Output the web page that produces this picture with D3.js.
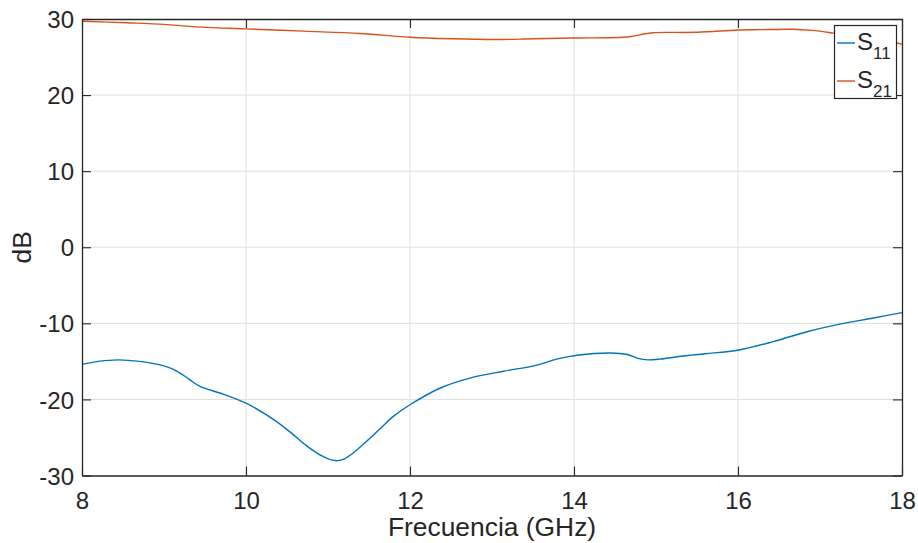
<!DOCTYPE html>
<html>
<head>
<meta charset="utf-8">
<script src="https://cdn.jsdelivr.net/npm/d3@7"></script>
<style>
  body { margin: 0; background: #fff; }
  svg text { font-family: "Liberation Sans", Arial, Helvetica, sans-serif; fill: #262626; }
</style>
</head>
<body>
<div id="chart"></div>
<script>
var width = 918,
    height = 543;

var margin = {top: 19, right: 16, bottom: 67.5, left: 82};

// S11 (blue)
var freq11 = [8.0, 8.2, 8.44, 8.7, 9.0, 9.16, 9.3, 9.44, 9.72, 10.0, 10.33, 10.55, 10.74, 10.92, 11.04, 11.12, 11.2, 11.3, 11.45, 11.63, 11.8, 12.0, 12.37, 12.73, 13.14, 13.55, 13.79, 14.04, 14.44, 14.65, 14.78, 14.9, 15.05, 15.33, 15.6, 16.01, 16.43, 16.84, 17.24, 17.65, 18.0];
var s11 = [-15.4, -15.0, -14.8, -15.0, -15.6, -16.3, -17.3, -18.3, -19.3, -20.5, -22.6, -24.4, -26.1, -27.4, -27.95, -28.05, -27.8, -27.1, -25.7, -23.9, -22.2, -20.7, -18.5, -17.2, -16.3, -15.5, -14.7, -14.2, -13.9, -14.1, -14.6, -14.8, -14.7, -14.3, -14.0, -13.5, -12.4, -11.1, -10.1, -9.3, -8.6];

// S21 (orange)
var freq21 = [8.0, 8.55, 9.0, 9.35, 10.0, 10.7, 11.39, 12.0, 12.5, 13.06, 13.5, 14.0, 14.6, 14.72, 14.84, 14.96, 15.5, 16.0, 16.27, 16.67, 16.9, 17.16, 17.5, 17.8, 18.0];
var s21 = [29.7, 29.5, 29.3, 29.0, 28.7, 28.4, 28.1, 27.6, 27.4, 27.3, 27.4, 27.5, 27.6, 27.75, 28.0, 28.2, 28.25, 28.55, 28.6, 28.65, 28.5, 28.15, 27.6, 27.1, 26.7];

var xTicks = [8, 10, 12, 14, 16, 18];
var yTicks = [-30, -20, -10, 0, 10, 20, 30];

var seriesNames = ["11", "21"];
var colors = ["#0072BD", "#D95319"];

var svg = d3.select("#chart").append("svg")
    .attr("width", width)
    .attr("height", height);

var x = d3.scaleLinear().domain([8, 18]).range([margin.left, width - margin.right]);
var y = d3.scaleLinear().domain([-30, 30]).range([height - margin.bottom, margin.top]);

// grid
svg.append("g").selectAll("line.vg")
    .data(xTicks.slice(1, -1))
    .enter().append("line")
    .attr("x1", function(d) { return x(d); })
    .attr("x2", function(d) { return x(d); })
    .attr("y1", y(-30))
    .attr("y2", y(30))
    .attr("stroke", "#dfdfdf")
    .attr("stroke-width", 1);

svg.append("g").selectAll("line.hg")
    .data(yTicks.slice(1, -1))
    .enter().append("line")
    .attr("x1", x(8))
    .attr("x2", x(18))
    .attr("y1", function(d) { return y(d); })
    .attr("y2", function(d) { return y(d); })
    .attr("stroke", "#dfdfdf")
    .attr("stroke-width", 1);

// lines
var line = d3.line()
    .x(function(d) { return x(d[0]); })
    .y(function(d) { return y(d[1]); })
    .curve(d3.curveCatmullRom.alpha(0.5));

var data11 = freq11.map(function(f, i) { return [f, s11[i]]; });
var data21 = freq21.map(function(f, i) { return [f, s21[i]]; });

svg.append("path")
    .datum(data11)
    .attr("d", line)
    .attr("fill", "none")
    .attr("stroke", colors[0])
    .attr("stroke-width", 1.4);

svg.append("path")
    .datum(data21)
    .attr("d", line)
    .attr("fill", "none")
    .attr("stroke", colors[1])
    .attr("stroke-width", 1.4);

// axes (ticks pointing inward, box on)
var tickLen = 9;
var axisColor = "#262626";

var xAxisB = d3.axisBottom(x).tickValues(xTicks).tickSizeInner(-tickLen).tickSizeOuter(0).tickPadding(16);
var xAxisT = d3.axisTop(x).tickValues(xTicks).tickSizeInner(-tickLen).tickSizeOuter(0).tickFormat("");
var yAxisL = d3.axisLeft(y).tickValues(yTicks).tickSizeInner(-tickLen).tickSizeOuter(0).tickPadding(8);
var yAxisR = d3.axisRight(y).tickValues(yTicks).tickSizeInner(-tickLen).tickSizeOuter(0).tickFormat("");

var gxb = svg.append("g").attr("transform", "translate(0," + y(-30) + ")").call(xAxisB);
var gxt = svg.append("g").attr("transform", "translate(0," + y(30) + ")").call(xAxisT);
var gyl = svg.append("g").attr("transform", "translate(" + x(8) + ",0)").call(yAxisL);
var gyr = svg.append("g").attr("transform", "translate(" + x(18) + ",0)").call(yAxisR);

[gxb, gxt, gyl, gyr].forEach(function(g) {
    g.select(".domain").attr("stroke", axisColor).attr("stroke-width", 1.3);
    g.selectAll(".tick line").attr("stroke", axisColor).attr("stroke-width", 1.1);
    g.selectAll(".tick text")
        .attr("font-size", 24)
        .attr("font-family", "Liberation Sans, Arial, sans-serif")
        .attr("fill", axisColor);
});

gyl.selectAll(".tick text").attr("dy", "0.36em").text(function(d) { return d < 0 ? "-" + Math.abs(d) : d; });

// axis labels
svg.append("text")
    .attr("x", x(13))
    .attr("y", 536)
    .attr("text-anchor", "middle")
    .attr("font-size", 26.4)
    .text("Frecuencia (GHz)");

svg.append("text")
    .attr("transform", "translate(31," + y(0) + ") rotate(-90)")
    .attr("text-anchor", "middle")
    .attr("font-size", 26.4)
    .text("dB");

// legend
var legend = svg.append("g");
legend.append("rect")
    .attr("x", 834.5)
    .attr("y", 25.5)
    .attr("width", 62)
    .attr("height", 73)
    .attr("fill", "#fff")
    .attr("stroke", axisColor)
    .attr("stroke-width", 1.2);

var legendRows = legend.selectAll("g.row")
    .data(seriesNames)
    .enter().append("g")
    .attr("transform", function(d, i) { return "translate(0," + (43 + i * 38) + ")"; });

legendRows.append("line")
    .attr("x1", 837)
    .attr("x2", 855)
    .attr("y1", 0)
    .attr("y2", 0)
    .attr("stroke", function(d, i) { return colors[i]; })
    .attr("stroke-width", 1.4);

var lt = legendRows.append("text")
    .attr("x", 857)
    .attr("y", 7)
    .attr("font-size", 24);
lt.append("tspan").text("S");
lt.append("tspan")
    .attr("dy", 9)
    .attr("font-size", 17)
    .text(function(d) { return d; });
</script>
</body>
</html>
